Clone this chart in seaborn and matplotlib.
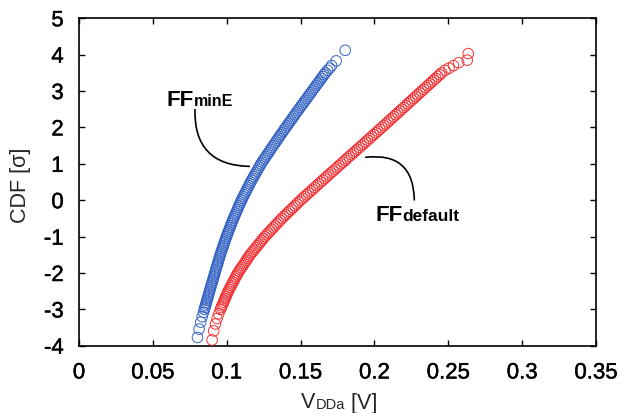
import matplotlib
matplotlib.use("Agg")
import matplotlib.pyplot as plt
import matplotlib.patheffects as pe
import seaborn as sns

# ---------------- data ----------------
sigma_mid = [-3.00, -2.95, -2.90, -2.85, -2.80, -2.75, -2.70, -2.65, -2.60, -2.55,
             -2.50, -2.45, -2.40, -2.35, -2.30, -2.25, -2.20, -2.15, -2.10, -2.05,
             -2.00, -1.95, -1.90, -1.85, -1.80, -1.75, -1.70, -1.65, -1.60, -1.55,
             -1.50, -1.45, -1.40, -1.35, -1.30, -1.25, -1.20, -1.15, -1.10, -1.05,
             -1.00, -0.95, -0.90, -0.85, -0.80, -0.75, -0.70, -0.65, -0.60, -0.55,
             -0.50, -0.45, -0.40, -0.35, -0.30, -0.25, -0.20, -0.15, -0.10, -0.05,
             0.00, 0.05, 0.10, 0.15, 0.20, 0.25, 0.30, 0.35, 0.40, 0.45,
             0.50, 0.55, 0.60, 0.65, 0.70, 0.75, 0.80, 0.85, 0.90, 0.95,
             1.00, 1.05, 1.10, 1.15, 1.20, 1.25, 1.30, 1.35, 1.40, 1.45,
             1.50, 1.55, 1.60, 1.65, 1.70, 1.75, 1.80, 1.85, 1.90, 1.95,
             2.00, 2.05, 2.10, 2.15, 2.20, 2.25, 2.30, 2.35, 2.40, 2.45,
             2.50, 2.55, 2.60, 2.65, 2.70, 2.75, 2.80, 2.85, 2.90, 2.95,
             3.00, 3.05, 3.10, 3.15, 3.20, 3.25, 3.30, 3.35, 3.40, 3.45, 3.50]

blue_sigma_low = [-3.77, -3.54, -3.35, -3.20, -3.08]
blue_sigma_high = [3.57, 3.63, 3.70, 3.83, 4.12]
blue_vdda_low = [0.0802, 0.0813, 0.0824, 0.0834, 0.0843]
blue_vdda_mid = [0.0849, 0.0852, 0.0856, 0.0859, 0.0863, 0.0866, 0.0870, 0.0873, 0.0877, 0.0880,
                 0.0884, 0.0887, 0.0891, 0.0894, 0.0898, 0.0902, 0.0906, 0.0909, 0.0913, 0.0916,
                 0.0920, 0.0923, 0.0927, 0.0930, 0.0934, 0.0938, 0.0942, 0.0945, 0.0949, 0.0952,
                 0.0956, 0.0960, 0.0964, 0.0968, 0.0973, 0.0977, 0.0981, 0.0985, 0.0990, 0.0994,
                 0.0998, 0.1003, 0.1008, 0.1012, 0.1017, 0.1022, 0.1027, 0.1031, 0.1036, 0.1041,
                 0.1046, 0.1051, 0.1057, 0.1062, 0.1068, 0.1073, 0.1078, 0.1083, 0.1089, 0.1094,
                 0.1100, 0.1106, 0.1112, 0.1118, 0.1125, 0.1131, 0.1137, 0.1143, 0.1150, 0.1156,
                 0.1162, 0.1169, 0.1176, 0.1183, 0.1190, 0.1197, 0.1204, 0.1211, 0.1218, 0.1225,
                 0.1232, 0.1240, 0.1249, 0.1257, 0.1265, 0.1273, 0.1282, 0.1290, 0.1298, 0.1306,
                 0.1315, 0.1323, 0.1332, 0.1340, 0.1349, 0.1357, 0.1366, 0.1374, 0.1383, 0.1391,
                 0.1400, 0.1409, 0.1418, 0.1426, 0.1435, 0.1444, 0.1453, 0.1461, 0.1470, 0.1479,
                 0.1488, 0.1497, 0.1506, 0.1515, 0.1524, 0.1533, 0.1542, 0.1551, 0.1560, 0.1569,
                 0.1578, 0.1587, 0.1596, 0.1605, 0.1614, 0.1623, 0.1632, 0.1641, 0.1650, 0.1659, 0.1668]
blue_vdda_high = [0.1683, 0.1697, 0.1710, 0.1741, 0.1802]

red_sigma_low = [-3.84, -3.59, -3.40, -3.25, -3.12]
red_sigma_high = [3.57, 3.63, 3.70, 3.78, 3.85, 4.03]
red_vdda_low = [0.0901, 0.0912, 0.0924, 0.0935, 0.0946]
red_vdda_mid = [0.0958, 0.0963, 0.0968, 0.0974, 0.0979, 0.0984, 0.0989, 0.0994, 0.1000, 0.1005,
                0.1010, 0.1017, 0.1023, 0.1030, 0.1036, 0.1043, 0.1049, 0.1056, 0.1062, 0.1069,
                0.1075, 0.1083, 0.1092, 0.1100, 0.1108, 0.1117, 0.1125, 0.1133, 0.1141, 0.1150,
                0.1158, 0.1168, 0.1178, 0.1188, 0.1198, 0.1208, 0.1218, 0.1228, 0.1238, 0.1248,
                0.1258, 0.1270, 0.1281, 0.1293, 0.1304, 0.1316, 0.1327, 0.1339, 0.1350, 0.1362,
                0.1373, 0.1386, 0.1398, 0.1411, 0.1424, 0.1437, 0.1449, 0.1462, 0.1475, 0.1487,
                0.1500, 0.1514, 0.1527, 0.1541, 0.1554, 0.1568, 0.1582, 0.1595, 0.1609, 0.1622,
                0.1636, 0.1650, 0.1664, 0.1677, 0.1691, 0.1705, 0.1719, 0.1733, 0.1746, 0.1760,
                0.1774, 0.1788, 0.1802, 0.1815, 0.1829, 0.1843, 0.1857, 0.1871, 0.1884, 0.1898,
                0.1912, 0.1926, 0.1940, 0.1953, 0.1967, 0.1981, 0.1995, 0.2009, 0.2022, 0.2036,
                0.2050, 0.2064, 0.2077, 0.2091, 0.2104, 0.2118, 0.2131, 0.2145, 0.2158, 0.2172,
                0.2185, 0.2199, 0.2212, 0.2226, 0.2239, 0.2253, 0.2266, 0.2280, 0.2293, 0.2307,
                0.2320, 0.2334, 0.2347, 0.2361, 0.2374, 0.2388, 0.2401, 0.2415, 0.2428, 0.2442, 0.2455]
red_vdda_high = [0.2478, 0.2505, 0.2535, 0.2570, 0.2628, 0.2635]

blue_sigma = blue_sigma_low + sigma_mid + blue_sigma_high
blue_vdda = blue_vdda_low + blue_vdda_mid + blue_vdda_high
red_sigma = red_sigma_low + sigma_mid + red_sigma_high
red_vdda = red_vdda_low + red_vdda_mid + red_vdda_high

x_ticks = [0, 0.05, 0.1, 0.15, 0.2, 0.25, 0.3, 0.35]
x_tick_labels = ["0", "0.05", "0.1", "0.15", "0.2", "0.25", "0.3", "0.35"]
y_ticks = [-4, -3, -2, -1, 0, 1, 2, 3, 4, 5]
y_tick_labels = ["-4", "-3", "-2", "-1", "0", "1", "2", "3", "4", "5"]

BLUE = "#3563c4"
RED = "#f03236"

# ---------------- style ----------------
sns.set_theme(style="ticks")
plt.rcParams["font.family"] = ["Liberation Sans", "DejaVu Sans"]

fig = plt.figure(figsize=(6.23, 4.14), dpi=100)
ax = fig.add_axes([0.1268, 0.1623, 0.8299, 0.7911])

sns.scatterplot(x=blue_vdda, y=blue_sigma, ax=ax, marker="o", s=58,
                color=BLUE, facecolor="none", edgecolor=BLUE, linewidth=0.7,
                legend=False, zorder=3)
sns.scatterplot(x=red_vdda, y=red_sigma, ax=ax, marker="o", s=58,
                color=RED, facecolor="none", edgecolor=RED, linewidth=0.7,
                legend=False, zorder=3)

ax.set_xlim(0, 0.35)
ax.set_ylim(-4, 5)
ax.set_xticks(x_ticks)
ax.set_xticklabels(x_tick_labels)
ax.set_yticks(y_ticks)
ax.set_yticklabels(y_tick_labels)
ax.tick_params(axis="both", which="both", direction="in", top=True, right=True,
               length=4.5, width=1.0, labelsize=16, colors="black")
ax.tick_params(axis="x", pad=12)
ax.tick_params(axis="y", pad=11)
for lab in ax.get_xticklabels() + ax.get_yticklabels():
    lab.set_path_effects([pe.withStroke(linewidth=0.3, foreground="black")])
for sp in ax.spines.values():
    sp.set_visible(True)
    sp.set_linewidth(1.2)
    sp.set_color("black")
ax.grid(False)
ax.set_xlabel("")
ax.set_ylabel("")

# ---------------- axis labels ----------------
lab_col = "#262626"
fig.text(20.7 / 623, 1 - 185 / 414, "CDF [σ]", rotation=90, ha="center",
         va="center", fontsize=15.5, color=lab_col)
tv = fig.text(300.7 / 623, 1 - 408.5 / 414, "V", ha="left", va="baseline",
              fontsize=15.5, color=lab_col)
tsub = ax.annotate("DDa", xy=(1, 0), xycoords=tv, xytext=(0.3, 0.212 * 15.5),
                   textcoords="offset points", ha="left", va="baseline",
                   fontsize=10.5, color=lab_col, annotation_clip=False)
ax.annotate(" [V]", xy=(1, 0), xycoords=tsub, xytext=(0, 0.212 * 10.5),
            textcoords="offset points", ha="left", va="baseline",
            fontsize=15.5, color=lab_col, annotation_clip=False)

# ---------------- curve annotations ----------------
t1 = ax.text(0.0589, 2.626, "FF", ha="left", va="baseline", fontsize=16,
             fontweight="bold", color="black")
ax.annotate("minE", xy=(1, 0), xycoords=t1, xytext=(0.3, 0.212 * 16),
            textcoords="offset points", ha="left", va="baseline",
            fontsize=11.5, fontweight="bold", color="black")
ax.annotate("", xy=(0.1153, 0.93), xytext=(0.0785, 2.49),
            arrowprops=dict(arrowstyle="-", connectionstyle="arc3,rad=0.5",
                            lw=1.2, color="black", shrinkA=0, shrinkB=0))

t2 = ax.text(0.2004, -0.533, "FF", ha="left", va="baseline", fontsize=16,
             fontweight="bold", color="black")
ax.annotate("default", xy=(1, 0), xycoords=t2, xytext=(0.3, 0.212 * 16),
            textcoords="offset points", ha="left", va="baseline",
            fontsize=12.5, fontweight="bold", color="black")
ax.annotate("", xy=(0.2270, 0.01), xytext=(0.1941, 1.18),
            arrowprops=dict(arrowstyle="-", connectionstyle="arc3,rad=-0.55",
                            lw=1.2, color="black", shrinkA=0, shrinkB=0))

fig.savefig("out.png", dpi=100)
